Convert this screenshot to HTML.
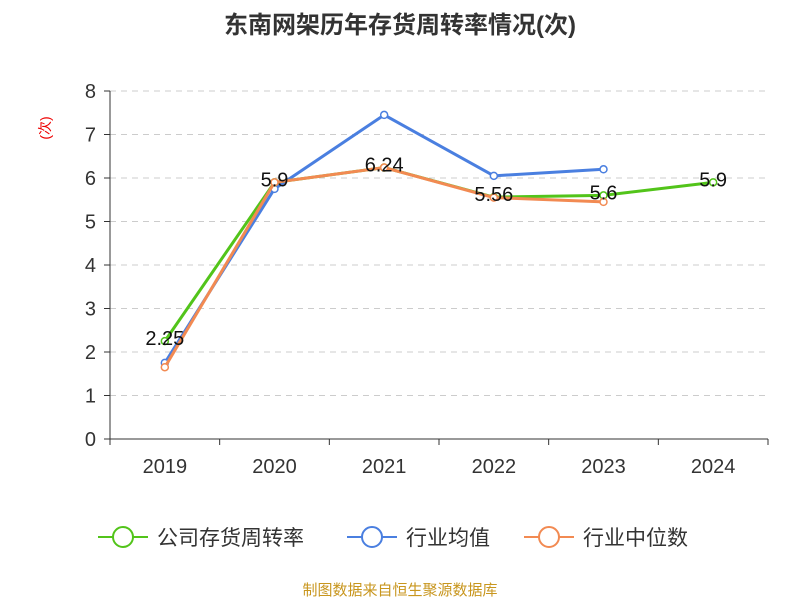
<!DOCTYPE html>
<html><head><meta charset="utf-8"><style>
body{margin:0;background:#fff;font-family:"Liberation Sans","Noto Sans CJK SC",sans-serif}
</style></head><body>
<svg width="800" height="600" xmlns="http://www.w3.org/2000/svg" font-family="Liberation Sans, Noto Sans CJK SC, sans-serif">
<text x="400" y="33" text-anchor="middle" font-size="24" font-weight="bold" fill="#333">东南网架历年存货周转率情况(次)</text>
<text transform="translate(50,128) rotate(-90)" text-anchor="middle" font-size="14" fill="#e00">(次)</text>
<g id="grid"></g><g id="axes"></g><g id="series"></g>
<g>
<g><line x1="98" y1="537" x2="148" y2="537" stroke="#52c41a" stroke-width="2"/><circle cx="123" cy="537" r="10" fill="#fff" stroke="#52c41a" stroke-width="2"/><text x="157" y="545" font-size="21" fill="#333">公司存货周转率</text></g>
<g><line x1="347" y1="537" x2="397" y2="537" stroke="#4a7fe0" stroke-width="2"/><circle cx="372" cy="537" r="10" fill="#fff" stroke="#4a7fe0" stroke-width="2"/><text x="406" y="545" font-size="21" fill="#333">行业均值</text></g>
<g><line x1="524" y1="537" x2="574" y2="537" stroke="#f28a52" stroke-width="2"/><circle cx="549" cy="537" r="10" fill="#fff" stroke="#f28a52" stroke-width="2"/><text x="583" y="545" font-size="21" fill="#333">行业中位数</text></g>
</g>
<text x="400" y="595" text-anchor="middle" font-size="15" fill="#c8961e">制图数据来自恒生聚源数据库</text>
</svg>
<script>
const categories=["2019","2020","2021","2022","2023","2024"];
const companyValues=[2.25,5.9,6.24,5.56,5.6,5.9];
const averageValues=[1.75,5.75,7.45,6.05,6.2,null];
const medianValues=[1.65,5.9,6.24,5.55,5.45,null];
const yTicks=[0,1,2,3,4,5,6,7,8];
const NS="http://www.w3.org/2000/svg";
const x0=110,x1=768,y0=439,yTop=91,yMax=8;
const bw=(x1-x0)/categories.length;
const xs=i=>x0+bw*(i+0.5);
const ys=v=>y0-(v/yMax)*(y0-yTop);
function mk(tag,attrs,parent,txt){const e=document.createElementNS(NS,tag);for(const k in attrs)e.setAttribute(k,attrs[k]);if(txt!==undefined)e.textContent=txt;parent.appendChild(e);return e;}
const grid=document.getElementById('grid'),axes=document.getElementById('axes'),ser=document.getElementById('series');
yTicks.forEach(t=>{
 if(t>0){const g=mk('line',{x1:x0,x2:x1,y1:ys(t),y2:ys(t),stroke:'#ccc','stroke-dasharray':'6,5'},grid);
 
 }
 const l=mk('text',{x:x0-14,y:ys(t)+7,'text-anchor':'end','font-size':20,fill:'#333'},axes,t);
 
 
 mk('line',{x1:x0-6,x2:x0,y1:ys(t),y2:ys(t),stroke:'#333'},axes);
});
const ya=mk('line',{x1:x0,x2:x0,y1:yTop,y2:y0,stroke:'#333'},axes);


const xa=mk('line',{x1:x0,x2:x1,y1:y0,y2:y0,stroke:'#333'},axes);


for(let i=0;i<=categories.length;i++)mk('line',{x1:x0+bw*i,x2:x0+bw*i,y1:y0,y2:y0+6,stroke:'#333'},axes);
categories.forEach((c,i)=>{const t=mk('text',{x:xs(i),y:y0+34,'text-anchor':'middle','font-size':20,fill:'#333'},axes,c);
 
 });
function series(vals,color,name){
 const g=mk('g',{},ser);
 
 
 const pts=vals.map((v,i)=>v==null?null:[xs(i),ys(v)]).filter(p=>p);
 mk('polyline',{points:pts.map(p=>p.join(',')).join(' '),fill:'none',stroke:color,'stroke-width':3},g);
 vals.forEach((v,i)=>{if(v==null)return;
  const c=mk('circle',{cx:xs(i),cy:ys(v),r:3.5,fill:'#fff',stroke:color,'stroke-width':1.5},g);
  
  
 });
}
series(averageValues,'#4a7fe0','average-series');
series(companyValues,'#52c41a','company-series');
series(medianValues,'#f28a52','median-series');
companyValues.forEach((v,i)=>{const t=mk('text',{x:xs(i),y:ys(v)+4,'text-anchor':'middle','font-size':20,fill:'#111'},ser,String(v));
 
 });
</script>
</body></html>
